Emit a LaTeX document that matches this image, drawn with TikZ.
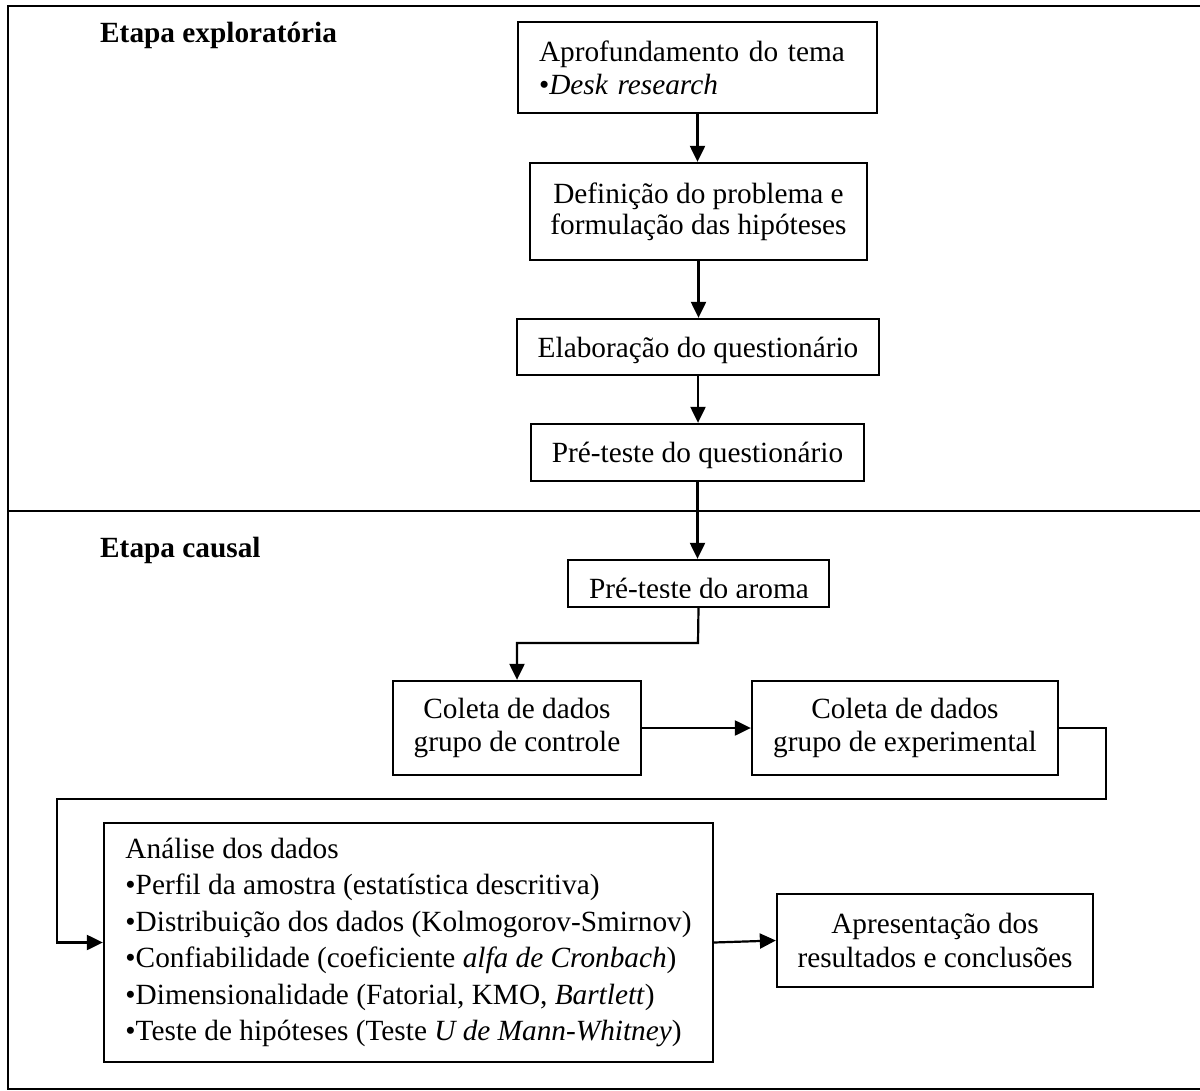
\documentclass[tikz,border=0pt]{standalone}
\usepackage{fontspec}
\setmainfont{Liberation Serif}
\usetikzlibrary{arrows.meta}
\begin{document}
\begin{tikzpicture}[x=1pt,y=-1pt,
  font=\fontsize{29.3}{33}\selectfont,
  frame/.style={line width=2.5pt},
  boxnode/.style={draw, line width=2.3pt, inner sep=0pt, align=center},
  conn/.style={line width=2.2pt, line join=miter, -{Triangle[length=16pt,width=15pt]}},
  title/.style={anchor=base west, inner sep=0pt, font=\fontsize{29.3}{33}\selectfont\bfseries}]
\useasboundingbox (0,0) rectangle (1200,1091);
% frame
\draw[frame] (1200,6) -- (8,6) -- (8,1089) -- (1200,1089);
\draw[frame] (8,511) -- (1200,511);
% titles
\node[title] (t1) at (100,43) {Etapa exploratória};
\node[title] (t2) at (100,557) {Etapa causal};
% boxes
\node[boxnode, align=left, text width=317pt, minimum width=359pt, minimum height=91pt] (b1) at (697.5,67.5)
  {Aprofundamento do tema\\•\textit{Desk research}};
\node[boxnode, minimum width=337pt, minimum height=97pt, font=\fontsize{29.3}{31}\selectfont] (b2) at (698.5,211.5)
  {Definição do problema e\\formulação das hipóteses};
\node[boxnode, minimum width=362pt, minimum height=56pt, text depth=0pt] (b3) at (698,347)
  {Elaboração do questionário};
\node[boxnode, minimum width=333pt, minimum height=57pt, text depth=0pt] (b4) at (697.5,452.5)
  {Pré-teste do questionário};
\node[boxnode, minimum width=261pt, minimum height=47pt] (b5) at (698.5,583.5) {};
\begin{scope}
  \clip (570,562) rectangle (827,597);
  \node[anchor=base, inner sep=0pt] (b5t) at (699,598) {Pré-teste do aroma};
\end{scope}
\node[boxnode, minimum width=248pt, minimum height=94pt] (b6) at (517,728)
  {Coleta de dados\\grupo de controle};
\node[boxnode, minimum width=306pt, minimum height=94pt] (b7) at (905,728)
  {Coleta de dados\\grupo de experimental};
\node[boxnode, align=left, minimum width=609pt, minimum height=239pt, font=\fontsize{29.3}{36.4}\selectfont] (b8) at (408.5,942.5)
  {Análise dos dados\\
   •Perfil da amostra (estatística descritiva)\\
   •Distribuição dos dados (Kolmogorov-Smirnov)\\
   •Confiabilidade (coeficiente \textit{alfa de Cronbach})\\
   •Dimensionalidade (Fatorial, KMO, \textit{Bartlett})\\
   •Teste de hipóteses (Teste \textit{U de Mann-Whitney})};
\node[boxnode, minimum width=316pt, minimum height=93pt, font=\fontsize{29.3}{34}\selectfont] (b9) at (935,940.5)
  {Apresentação dos\\resultados e conclusões};
% connector points
\coordinate (c1) at (698,643);
\coordinate (r1) at (1106,799);
\coordinate (l1) at (57,799);
% connectors
\draw[conn] (b1.south) -- (b1.south |- b2.north);
\draw[conn] (b2.south) -- (b2.south |- b3.north);
\draw[conn] (b3.south) -- (b3.south |- b4.north);
\draw[conn] (b4.south) -- (b4.south |- b5.north);
\draw[conn] (b5.south) -- (c1) -| (b6.north);
\draw[conn] (b6.east) -- (b7.west);
\draw[conn] (b7.east) -| (r1) -- (l1) |- (b8.west);
\draw[conn] (b8.east) -- (b9.west);
\end{tikzpicture}
\end{document}
